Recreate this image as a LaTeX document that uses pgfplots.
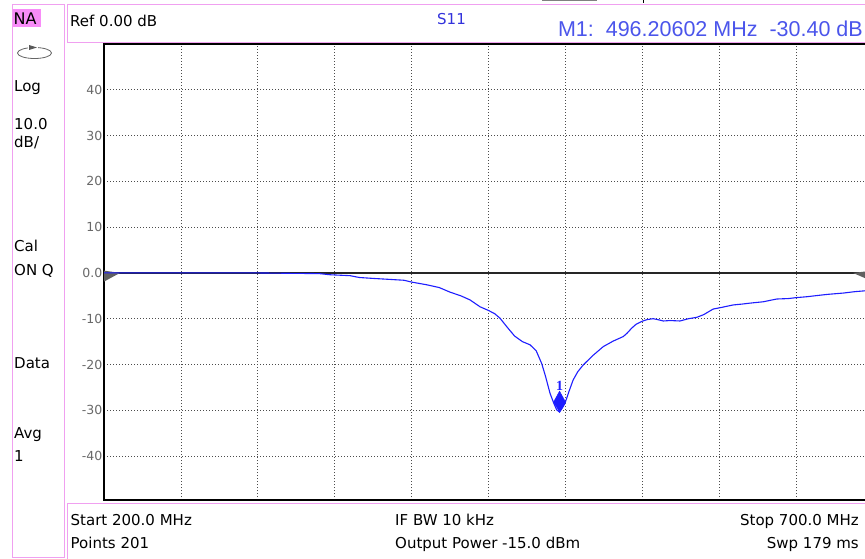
\documentclass[border=0pt]{standalone}
\usepackage{fontspec}
\setmainfont{DejaVu Sans}
\newfontfamily\arialf{Liberation Sans}
\newfontfamily\serifb{Liberation Serif}
\usepackage{pgfplots}
\pgfplotsset{compat=1.18}
\definecolor{pinkb}{RGB}{240,160,240}
\definecolor{pinkfill}{RGB}{248,140,248}
\definecolor{trace}{RGB}{30,30,255}
\definecolor{stext}{RGB}{50,50,220}
\definecolor{mtext}{RGB}{75,85,235}
\definecolor{ticktext}{RGB}{105,105,105}
\newcommand\fs[1]{\fontsize{#1}{#1}\selectfont}
\pgfdeclareplotmark{vnam}{%
  \pgfpathmoveto{\pgfpoint{0pt}{0pt}}%
  \pgfpathlineto{\pgfpoint{6pt}{10pt}}%
  \pgfpathlineto{\pgfpoint{0pt}{21pt}}%
  \pgfpathlineto{\pgfpoint{-6pt}{10pt}}%
  \pgfpathclose\pgfusepathqfillstroke}
\begin{document}
\begin{tikzpicture}[x=1pt,y=1pt]
\clip (0,0) rectangle (865,558);
\fill[white] (0,0) rectangle (865,558);
% frames
\fill[pinkfill] (12.5,531.3) rectangle (40.7,548.7);
\draw[pinkb, line width=1pt] (12.5,1) rectangle (64.5,553);
\draw[pinkb, line width=1pt] (67.5,515.5) rectangle (880,553);
\draw[pinkb, line width=1pt] (67.5,-5) rectangle (880,55);
\draw[gray, line width=1.5pt] (542,557.5) -- (597,557.5);
\draw[black, line width=0.8pt] (643,558) -- (643,555);
% left panel
\node[anchor=base west, inner sep=0, font=\fs{16}] at (13.5,533.5) {NA};
\draw[gray!80!black, line width=0.8pt] (34.5,505) ellipse [x radius=17, y radius=5.5];
\fill[white] (28,508) rectangle (38,512);
\fill[gray!70!black] (29,513) -- (37,510.5) -- (29,508) -- cycle;
\node[anchor=base west, inner sep=0, font=\fs{15}] at (14,466) {Log};
\node[anchor=base west, inner sep=0, font=\fs{15}] at (14,428) {10.0};
\node[anchor=base west, inner sep=0, font=\fs{15}] at (14,410) {dB/};
\node[anchor=base west, inner sep=0, font=\fs{15}] at (14,307) {Cal};
\node[anchor=base west, inner sep=0, font=\fs{15}] at (14,283) {ON Q};
\node[anchor=base west, inner sep=0, font=\fs{15}] at (14,190) {Data};
\node[anchor=base west, inner sep=0, font=\fs{15}] at (14,120) {Avg};
\node[anchor=base west, inner sep=0, font=\fs{15}] at (14,97) {1};
% top bar
\node[anchor=base west, inner sep=0, font=\fs{15}] at (70,531.5) {Ref 0.00 dB};
\node[anchor=base west, inner sep=0, font=\fs{15}, text=stext] at (437,533) {S11};
\node[anchor=base east, inner sep=0, font=\arialf\fs{21.5}, text=mtext] at (863,521.5) {M1:\ \ 496.20602 MHz\ \ -30.40 dB};
% bottom bar
\node[anchor=base west, inner sep=0, font=\fs{15}] at (70.5,33) {Start 200.0 MHz};
\node[anchor=base west, inner sep=0, font=\fs{15}] at (70.5,10) {Points 201};
\node[anchor=base west, inner sep=0, font=\fs{15}] at (395,33) {IF BW 10 kHz};
\node[anchor=base west, inner sep=0, font=\fs{15}] at (395,10) {Output Power -15.0 dBm};
\node[anchor=base east, inner sep=0, font=\fs{15}] at (859,33) {Stop 700.0 MHz};
\node[anchor=base east, inner sep=0, font=\fs{15}] at (859,10) {Swp 179 ms};
\begin{axis}[
  at={(104pt,58pt)}, anchor=south west,
  scale only axis, width=769pt, height=456pt,
  xmin=200, xmax=700, ymin=-49.6, ymax=50,
  xtick={250,300,...,650}, xticklabels={},
  ytick={-40,-30,-20,-10,0,10,20,30,40},
  yticklabels={-40,-30,-20,-10,0.0,10,20,30,40},
  major tick length=0pt,
  grid=major,
  major grid style={black!70, line width=0.8pt, dash pattern=on 1pt off 2pt},
  axis line style={black, line width=1.3pt},
  yticklabel style={font=\fs{12.5}, text=ticktext, inner sep=1.5pt},
]
\addplot[black!85, line width=1.3pt] coordinates {(200,0) (700,0)};
\addplot[fill=gray!75!black, draw=none] coordinates {(200,0.5) (210.4,0) (200,-1.9)} -- cycle;
\addplot[fill=gray!75!black, draw=none] coordinates {(700,0.5) (687,0) (700,-1.9)} -- cycle;
\addplot[trace, line width=1.1pt] coordinates {
(200,0) (250,0) (300,0) (320,-0.08) (340,-0.15) (347,-0.4) (360,-0.6) (366,-1.0)
(375,-1.2) (385,-1.4) (395,-1.6) (400,-2.0) (410,-2.6) (418,-3.2) (425,-4.2) (432,-5.0)
(438,-5.9) (444.5,-7.4) (450,-8.2) (454,-8.9) (457.5,-9.9) (462,-11.8)
(467,-13.8) (472,-15.0) (477,-15.7) (481,-17.0) (484.6,-19.8) (487,-22.5) (490,-26.3)
(492.5,-28.5) (494.3,-29.9) (496.2,-30.4) (498,-29.5) (499.7,-28.5) (502,-26.2)
(505,-23.4) (508,-21.6) (511.6,-20.1) (518,-18.0) (524.6,-16.1) (531,-14.9)
(537.6,-13.9) (540,-13.2) (543,-12.1) (546,-11.2) (549.6,-10.6) (553,-10.2)
(557,-10.0) (560,-10.2) (563.7,-10.5) (568,-10.4) (574.5,-10.5) (580,-10.0)
(585.4,-9.7) (590,-9.1) (596,-7.9) (602,-7.5) (609,-7.0) (615,-6.8) (620,-6.6)
(628.7,-6.3) (633,-6.0) (637.4,-5.7) (645,-5.6) (650,-5.4) (657,-5.2) (663.4,-4.95)
(670,-4.7) (680.7,-4.4) (688,-4.1) (695,-3.9) (700,-3.7)};
\addplot[trace, only marks, mark=vnam,
  nodes near coords={\serifb\bfseries\fs{14}1},
  nodes near coords style={anchor=south, yshift=21pt, text=trace, inner sep=0.5pt}]
  coordinates {(496.2,-30.4)};
\end{axis}
\end{tikzpicture}
\end{document}
